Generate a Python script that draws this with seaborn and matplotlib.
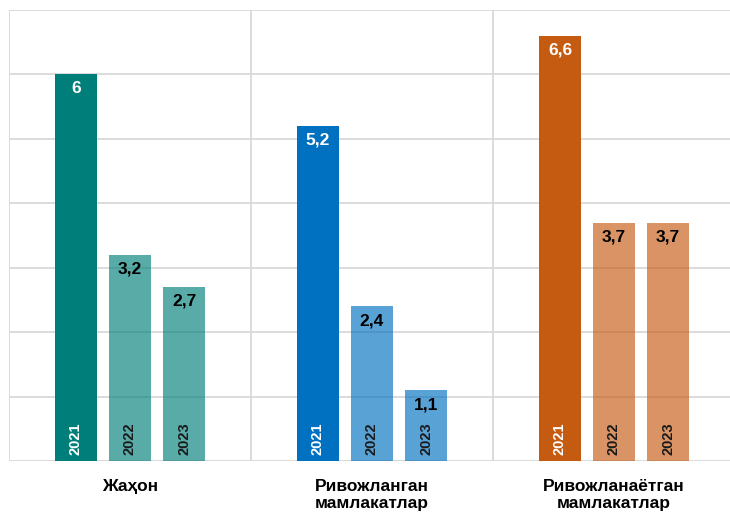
import matplotlib
matplotlib.use("Agg")
import matplotlib.pyplot as plt
import seaborn as sns
import pandas as pd

regions = ["Жаҳон", "Ривожланган\nмамлакатлар", "Ривожланаётган\nмамлакатлар"]
years = ["2021", "2022", "2023"]
values_2021 = [6.0, 5.2, 6.6]
values_2022 = [3.2, 2.4, 3.7]
values_2023 = [2.7, 1.1, 3.7]
region_colors = ["#007F7A", "#0070C0", "#C55A11"]

rows = []
for yr, vals in zip(years, [values_2021, values_2022, values_2023]):
    for reg, v in zip(regions, vals):
        rows.append({"region": reg, "year": yr, "value": v})
df = pd.DataFrame(rows)

sns.set_theme(style="white")
plt.rcParams["font.family"] = ["Liberation Sans", "DejaVu Sans"]

fig = plt.figure(figsize=(7.3, 5.15), dpi=100)
ax = fig.add_axes([9 / 730, 1 - 461 / 515, 1 - 9 / 730, (461 - 10) / 515])

sns.barplot(data=df, x="region", y="value", hue="year", order=regions,
            hue_order=years, width=0.67, gap=0.22, legend=False,
            errorbar=None, ax=ax)

for i, cont in enumerate(ax.containers):
    for j, bar in enumerate(cont):
        bar.set_facecolor(region_colors[j])
        bar.set_edgecolor("none")
        bar.set_linewidth(0)
        bar.set_alpha(1.0 if i == 0 else 0.65)
        bar.set_zorder(3)
        cx = bar.get_x() + bar.get_width() / 2
        h = bar.get_height()
        txt_color = "white" if i == 0 else "black"
        ax.annotate(f"{h:g}".replace(".", ","), (cx, h), xytext=(0, -5),
                    textcoords="offset points", ha="center", va="top",
                    fontsize=12.5, fontweight="bold", color=txt_color, zorder=5)
        ax.annotate(years[i], (cx, 0), xytext=(0, 4),
                    textcoords="offset points", ha="center", va="bottom",
                    rotation=90, fontsize=10.5, fontweight="bold",
                    color="white" if i == 0 else "#1a1a1a", zorder=5)

ax.set_ylim(0, 7)
ax.set_xlim(-0.5, -0.5 + 721 / 242)
ax.set_yticks(range(8))
ax.set_yticklabels([])
ax.set_xticks([-0.5, 0.5, 1.5], minor=True)
ax.yaxis.grid(True, color="#d9d9d9", linewidth=1.3, zorder=0)
ax.xaxis.grid(True, which="minor", color="#d9d9d9", linewidth=1.3, zorder=0)
ax.xaxis.grid(False, which="major")
ax.set_axisbelow(True)
for s in ax.spines.values():
    s.set_visible(False)
ax.tick_params(axis="both", which="both", length=0)
ax.tick_params(axis="x", pad=13)
ax.set_xticks(range(3))
ax.set_xticklabels(regions, fontsize=12.5, fontweight="bold", color="black",
                   linespacing=1.15)
for lbl in ax.get_xticklabels():
    lbl.set_verticalalignment("top")
ax.set_xlabel("")
ax.set_ylabel("")

fig.savefig("out.png", dpi=100)
